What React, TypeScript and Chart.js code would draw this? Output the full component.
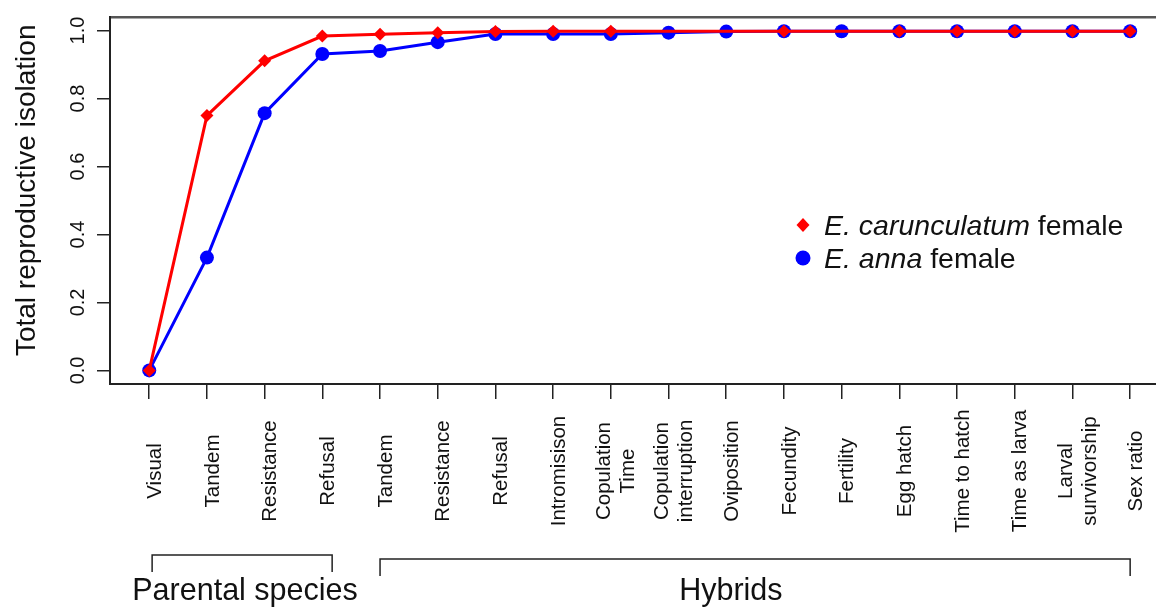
import React, { useEffect, useRef } from "react";
import { Chart, registerables } from "chart.js";

Chart.register(...registerables);

const FONT = '"Liberation Sans", Arial, Helvetica, sans-serif';

// ---- data ----
const categories: string[][] = [
  ["Visual"],
  ["Tandem"],
  ["Resistance"],
  ["Refusal"],
  ["Tandem"],
  ["Resistance"],
  ["Refusal"],
  ["Intromisison"],
  ["Copulation", "Time"],
  ["Copulation", "interruption"],
  ["Oviposition"],
  ["Fecundity"],
  ["Fertility"],
  ["Egg hatch"],
  ["Time to hatch"],
  ["Time as larva"],
  ["Larval", "survivorship"],
  ["Sex ratio"],
];

const carunculatumFemale = [
  0, 0.75, 0.911, 0.984, 0.989, 0.994, 0.997, 0.998, 0.998, 0.998, 0.998,
  0.998, 0.998, 0.998, 0.998, 0.998, 0.998, 0.998,
];
const annaFemale = [
  0, 0.332, 0.757, 0.931, 0.94, 0.966, 0.99, 0.99, 0.99, 0.994, 0.997, 0.998,
  0.998, 0.998, 0.998, 0.998, 0.998, 0.998,
];
const yTickValues = [0, 0.2, 0.4, 0.6, 0.8, 1.0];
const yTitle = "Total reproductive isolation";
const groupLabels = ["Parental species", "Hybrids"];
const groupSpans = [
  [0.05, 3.17],
  [4, 17],
];
const groupLabelAt = [1.66, 10.08];
const legendLabels = [
  { italic: "E. carunculatum", plain: " female" },
  { italic: "E. anna", plain: " female" },
];

const RED = "#ff0000";
const BLUE = "#0000ff";

const overlay = {
  id: "overlay",
  afterDraw(chart: any) {
    const ctx: CanvasRenderingContext2D = chart.ctx;
    const xs = chart.scales.x;
    const ys = chart.scales.y;
    ctx.save();
    ctx.fillStyle = "#111";

    // y axis title
    ctx.save();
    ctx.font = `28px ${FONT}`;
    ctx.textAlign = "center";
    ctx.textBaseline = "middle";
    ctx.translate(27, ys.getPixelForValue(0.53));
    ctx.rotate(-Math.PI / 2);
    ctx.fillText(yTitle, 0, 0);
    ctx.restore();

    // category labels (rotated)
    ctx.font = `20.5px ${FONT}`;
    ctx.textAlign = "center";
    ctx.textBaseline = "middle";
    const lh = 24;
    categories.forEach((lines, i) => {
      const px = xs.getPixelForValue(i) + 6;
      ctx.save();
      ctx.translate(px, 471);
      ctx.rotate(-Math.PI / 2);
      lines.forEach((ln, j) => {
        ctx.fillText(ln, 0, (j - (lines.length - 1) / 2) * lh);
      });
      ctx.restore();
    });

    // group brackets
    ctx.strokeStyle = "#222";
    ctx.lineWidth = 1.5;
    const lineYs = [555, 559];
    groupSpans.forEach((span, g) => {
      const x1 = xs.getPixelForValue(span[0]);
      const x2 = xs.getPixelForValue(span[1]);
      const ly = lineYs[g];
      ctx.beginPath();
      ctx.moveTo(x1, ly + 17);
      ctx.lineTo(x1, ly);
      ctx.lineTo(x2, ly);
      ctx.lineTo(x2, ly + 17);
      ctx.stroke();
      ctx.font = `30.5px ${FONT}`;
      ctx.textAlign = "center";
      ctx.textBaseline = "alphabetic";
      ctx.fillText(groupLabels[g], xs.getPixelForValue(groupLabelAt[g]), 600);
    });

    // legend
    const lx = 803;
    const rows = [225, 258];
    ctx.textAlign = "left";
    ctx.textBaseline = "alphabetic";
    legendLabels.forEach((lab, k) => {
      const cy = rows[k];
      ctx.fillStyle = k === 0 ? RED : BLUE;
      ctx.beginPath();
      if (k === 0) {
        ctx.moveTo(lx, cy - 7);
        ctx.lineTo(lx + 6.5, cy);
        ctx.lineTo(lx, cy + 7);
        ctx.lineTo(lx - 6.5, cy);
        ctx.closePath();
      } else {
        ctx.arc(lx, cy, 7.5, 0, Math.PI * 2);
      }
      ctx.fill();
      ctx.fillStyle = "#111";
      ctx.font = `italic 28.5px ${FONT}`;
      const tx = 824;
      const by = cy + 10;
      ctx.fillText(lab.italic, tx, by);
      const w = ctx.measureText(lab.italic).width;
      ctx.font = `28.5px ${FONT}`;
      ctx.fillText(lab.plain, tx + w, by);
    });
    ctx.restore();
  },
};

export default function App() {
  const ref = useRef<HTMLCanvasElement | null>(null);

  useEffect(() => {
    if (!ref.current) return;
    const xMin = -0.68;
    const xMax = 17.448;
    const chart = new Chart(ref.current, {
      type: "line",
      data: {
        datasets: [
          {
            label: "E. carunculatum female",
            data: carunculatumFemale.map((v, i) => ({ x: i, y: v })),
            borderColor: RED,
            backgroundColor: RED,
            borderWidth: 3,
            pointStyle: "rectRot",
            pointRadius: carunculatumFemale.map((_, i) =>
              i === 9 || i === 10 || i === 12 ? 0 : 6.5
            ),
            pointBorderWidth: 0,
            tension: 0,
            clip: false as any,
          },
          {
            label: "E. anna female",
            data: annaFemale.map((v, i) => ({ x: i, y: v })),
            borderColor: BLUE,
            backgroundColor: BLUE,
            borderWidth: 3,
            pointStyle: "circle",
            pointRadius: 7,
            pointBorderWidth: 0,
            tension: 0,
            clip: false as any,
          },
        ],
      },
      options: {
        animation: false,
        responsive: false,
        maintainAspectRatio: false,
        layout: { padding: 0, autoPadding: false },
        plugins: {
          legend: { display: false },
          tooltip: { enabled: false },
        },
        scales: {
          x: {
            type: "linear",
            position: "bottom",
            min: xMin,
            max: xMax,
            afterBuildTicks: (s: any) => {
              s.ticks = categories.map((_, i) => ({ value: i }));
            },
            afterFit: (s: any) => {
              s.height = 225;
            },
            grid: {
              display: true,
              drawOnChartArea: false,
              drawTicks: true,
              tickLength: 15,
              color: "#222",
              lineWidth: 1.5,
            },
            border: { display: true, color: "#222", width: 2 },
            ticks: { display: false },
          },
          xTop: {
            type: "linear",
            position: "top",
            min: xMin,
            max: xMax,
            afterFit: (s: any) => {
              s.height = 10;
            },
            grid: { display: false, drawTicks: false },
            border: { display: true, color: "#555", width: 2.5 },
            ticks: { display: false },
          },
          y: {
            type: "linear",
            position: "left",
            min: -0.04,
            max: 1.04,
            afterBuildTicks: (s: any) => {
              s.ticks = yTickValues.map((v) => ({ value: v }));
            },
            afterFit: (s: any) => {
              s.width = 110;
            },
            grid: {
              display: true,
              drawOnChartArea: false,
              drawTicks: true,
              tickLength: 13,
              color: "#222",
              lineWidth: 1.5,
            },
            border: { display: true, color: "#222", width: 2 },
            ticks: {
              minRotation: 90,
              maxRotation: 90,
              crossAlign: "center",
              padding: 5,
              color: "#111",
              font: { family: FONT, size: 20 },
              callback: (v: any) => Number(v).toFixed(1),
            },
            title: { display: false },
          },
        },
      },
      plugins: [overlay],
    });
    return () => chart.destroy();
  }, []);

  return (
    <div
      style={{
        position: "fixed",
        left: 0,
        top: 0,
        width: 1156,
        height: 609,
        background: "#fff",
      }}
    >
      <canvas ref={ref} width={1156} height={609} style={{ display: "block" }} />
    </div>
  );
}
